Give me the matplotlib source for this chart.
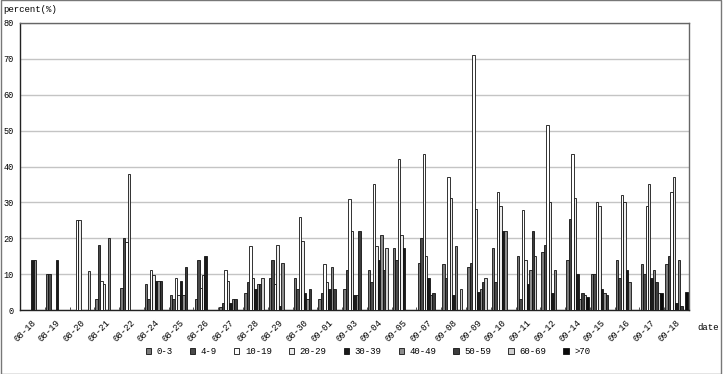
import numpy as np
import matplotlib
matplotlib.use("Agg")
import matplotlib.pyplot as plt
from matplotlib.patches import Patch, Rectangle

plt.rcParams['font.family'] = ['Liberation Mono', 'DejaVu Sans Mono']

dates = ['08-18', '08-19', '08-20', '08-21', '08-22', '08-24', '08-25', '08-26', '08-27',
         '08-28', '08-29', '08-30', '09-01', '09-03', '09-04', '09-05', '09-07', '09-08',
         '09-09', '09-10', '09-11', '09-12', '09-14', '09-15', '09-16', '09-17', '09-18']
groups = ['0-3', '4-9', '10-19', '20-29', '30-39', '40-49', '50-59', '60-69', '>70']

# percent per age group, one value per date
a0_3 = [0, 10, 0, 3, 6, 7.2, 4.2, 3, 0.7, 4.8, 9, 9, 3, 5.9, 11.2, 17.2, 13, 12.8, 12.1,
        17.2, 15, 16.3, 14, 10, 14, 12.8, 12.8]
a4_9 = [0, 10, 0, 18, 20, 3, 3, 14, 2, 7.9, 14, 5.9, 4.8, 11.2, 7.9, 14, 20.2, 9, 13,
        7.9, 3, 18, 25.3, 10, 9, 10, 15]
a10_19 = [0, 0, 25, 8, 19, 11.2, 9, 6, 11.2, 17.9, 7.2, 25.9, 12.8, 31, 35.2, 42, 43.5, 37, 71,
          33, 28, 51.5, 43.5, 30, 32.1, 29, 33]
a20_29 = [0, 0, 25, 7.3, 38, 9.8, 4.2, 9.8, 8, 9, 18, 19.3, 7.9, 22, 17.9, 21, 15, 31.2, 28.1,
          29, 14, 30, 31.2, 29, 30, 35.2, 37]
a30_39 = [14, 14, 0, 0, 0, 8, 8, 15, 2, 5.9, 1, 4.8, 5.9, 4.2, 14, 17.2, 9, 4.2, 5.1,
          22, 7.3, 4.8, 10, 5.9, 11.2, 8.8, 2]
a40_49 = [14, 0, 0, 20, 0, 8, 4.2, 0, 3, 7.2, 13, 3, 11.9, 4.2, 21, 0, 4.2, 17.9, 5.9,
          22, 11.2, 11.2, 3, 4.8, 7.9, 11.2, 14]
a50_59 = [0, 0, 0, 0, 0, 8, 12, 0, 3, 7.2, 0, 5.9, 5.9, 22, 11.1, 0, 4.8, 0, 7.9,
          0, 22, 0, 4.8, 4.2, 0, 7.9, 1]
a60_69 = [0, 0, 11, 0, 0, 0, 0, 0, 0, 8.8, 0, 0, 0, 0, 17.2, 0, 0, 5.9, 9,
          0, 15, 0, 4.2, 0, 0, 4.8, 0]
a70 = [0, 0, 0, 0, 0, 0, 0, 0, 0, 0, 0, 0, 0, 0, 0, 0, 0, 0, 0,
       0, 0, 0, 3.5, 0, 0, 4.8, 5]

series = [a0_3, a4_9, a10_19, a20_29, a30_39, a40_49, a50_59, a60_69, a70]
colors = ['#7a7a7a', '#4a4a4a', '#ffffff', '#ececec', '#1a1a1a',
          '#8c8c8c', '#3c3c3c', '#cfcfcf', '#0a0a0a']

fig = plt.figure(figsize=(7.27, 3.74), dpi=100)
ax = fig.add_axes([20 / 727, 1 - 310 / 374, 669 / 727, 287 / 374])

x = np.arange(len(dates))
w = 0.1
for i, vals in enumerate(series):
    ax.bar(x + 0.045 + i * w, vals, width=w, align='edge', color=colors[i],
           edgecolor='#111111', linewidth=0.6, zorder=3)

ax.set_xlim(0, len(dates))
ax.set_ylim(0, 80)
ax.set_yticks(np.arange(0, 81, 10))
ax.yaxis.grid(True, color='#c4c4c4', linewidth=1.0, zorder=0)
ax.tick_params(axis='y', length=0, pad=4.5, labelsize=6.2)

ax.set_xticks(x + 0.45)
ax.set_xticklabels(dates, rotation=45, ha='right', rotation_mode='anchor', fontsize=6.5)
ax.tick_params(axis='x', length=0, pad=6)
ax.set_xticks(x, minor=True)
ax.tick_params(axis='x', which='minor', length=2, direction='in', color='#333333')

for s in ['left', 'bottom']:
    ax.spines[s].set_color('#222222')
    ax.spines[s].set_linewidth(1.0)
for s in ['top', 'right']:
    ax.spines[s].set_color('#666666')
    ax.spines[s].set_linewidth(1.0)

fig.text(3 / 727, 1 - 9 / 374, 'percent(%)', fontsize=6.5, va='center', ha='left')
fig.text(697 / 727, 1 - 328 / 374, 'date', fontsize=6.5, va='center', ha='left')

handles = [Patch(facecolor=c, edgecolor='#111111', linewidth=0.6) for c in colors]
fig.legend(handles, groups, loc='center', bbox_to_anchor=(368 / 727, 1 - 352 / 374),
           ncol=9, frameon=False, fontsize=6.5, handlelength=0.6, handleheight=0.6,
           handletextpad=0.6, columnspacing=1.9)

# outer frame of the picture
fig.patches.append(Rectangle((1 / 727, 0), 720 / 727, 1, transform=fig.transFigure,
                             fill=False, edgecolor='#777777', linewidth=1.0))

fig.savefig('out.png', dpi=100)
